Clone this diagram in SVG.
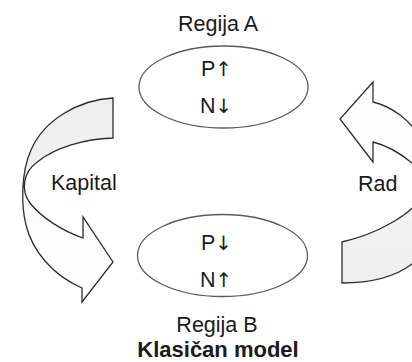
<svg xmlns="http://www.w3.org/2000/svg" width="412" height="362" viewBox="0 0 412 362">
<style>
text{font-family:"Liberation Sans",Arial,sans-serif;fill:#1a1a1a;}
.lbl{font-size:21.5px;}
.ttl{font-size:22px;font-weight:bold;}
.ar{font-family:"DejaVu Sans",sans-serif;font-size:20px;}
.sym{opacity:0.99;}
.ell{fill:#ffffff;stroke:#5a5a5a;stroke-width:1.3;}
.arr{stroke:#2e2e2e;stroke-width:1.3;stroke-linejoin:miter;}
</style>
<defs>
<linearGradient id="gL" gradientUnits="userSpaceOnUse" x1="0" y1="98" x2="0" y2="300">
<stop offset="0" stop-color="#eeeeee"/>
<stop offset="0.42" stop-color="#f1f1f1"/>
<stop offset="0.5" stop-color="#fbfbfb"/>
<stop offset="1" stop-color="#ffffff"/>
</linearGradient>
<linearGradient id="gR" gradientUnits="userSpaceOnUse" x1="0" y1="80" x2="0" y2="285">
<stop offset="0" stop-color="#ffffff"/>
<stop offset="0.55" stop-color="#fbfbfb"/>
<stop offset="0.72" stop-color="#f1f1f1"/>
<stop offset="1" stop-color="#eeeeee"/>
</linearGradient>
</defs>
<rect width="412" height="362" fill="#ffffff"/>
<g id="connectors">
<g id="kapital-arrow">
<path class="arr" fill="url(#gL)" d="M113,98 C78,100 44,120 31,150 C21,172 21,205 26,225 C32,250 52,275 82,288 L82,302 L113,262 L83,217 L83,238 C60,230 40,216 30,203 C20,190 24,172 36,163 C55,147 85,139 113,138 Z"/>
<text class="lbl" x="51" y="190">Kapital</text>
</g>
<g id="rad-arrow">
<path class="arr" fill="url(#gR)" d="M342,283 C370,283 395,277 412,264 C430,250 442,225 440,195 C438,160 420,130 400,115 C392,109 382,104 373,102 L373,82 L340,119 L373,162 L373,142 C385,145 400,153 412,163 C424,175 428,190 420,200 C408,215 380,233 342,242 Z"/>
<text class="lbl" x="358" y="191">Rad</text>
</g>
</g>
<g id="regija-a">
<ellipse class="ell" cx="223.5" cy="87" rx="84.5" ry="41"/>
<text class="lbl" x="218" y="30.5" text-anchor="middle">Regija A</text>
<text class="lbl sym" x="201" y="76">P<tspan class="ar">↑</tspan></text>
<text class="lbl sym" x="200" y="113">N<tspan class="ar">↓</tspan></text>
</g>
<g id="regija-b">
<ellipse class="ell" cx="222.5" cy="255.5" rx="85" ry="41"/>
<text class="lbl sym" x="201" y="250">P<tspan class="ar">↓</tspan></text>
<text class="lbl sym" x="200" y="286.5">N<tspan class="ar">↑</tspan></text>
<text class="lbl" x="217" y="331.5" text-anchor="middle">Regija B</text>
</g>
<g id="title">
<text class="ttl" x="218" y="357" text-anchor="middle">Klasičan model</text>
</g>
</svg>
